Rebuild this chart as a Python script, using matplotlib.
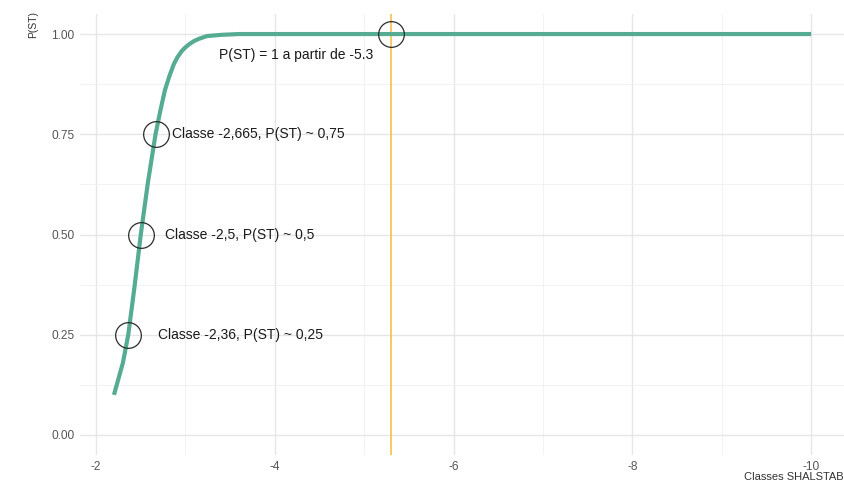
import matplotlib.pyplot as plt
from matplotlib.ticker import MultipleLocator

# valeurs
classe = [-2.2, -2.25, -2.3, -2.36, -2.43, -2.5, -2.58, -2.665, -2.72, -2.77, -2.82,
          -2.87, -2.91, -2.96, -3.0, -3.05, -3.1, -3.15, -3.24, -3.4, -3.6, -4.0, -5.3, -10.0]
p_st = [0.10, 0.14, 0.18, 0.25, 0.37, 0.50, 0.63, 0.75, 0.81, 0.86, 0.895,
        0.925, 0.942, 0.958, 0.967, 0.976, 0.983, 0.988, 0.995, 0.998, 1.0, 1.0, 1.0, 1.0]

pts_x = [-2.36, -2.5, -2.665, -5.3]
pts_y = [0.25, 0.5, 0.75, 1.0]
labels = ['Classe -2,36, P(ST) ~ 0,25', 'Classe -2,5, P(ST) ~ 0,5',
          'Classe -2,665, P(ST) ~ 0,75', 'P(ST) = 1 a partir de -5.3']
seuil = -5.3

plt.rcParams['font.family'] = ['Liberation Sans', 'DejaVu Sans']
plt.rcParams['axes.unicode_minus'] = False

fig = plt.figure(figsize=(8.44, 4.82), dpi=100)
ax = fig.add_axes([80 / 844, 27 / 482, 766 / 844, 441 / 482])

ax.plot(classe, p_st, color='#55AC92', lw=3, solid_capstyle='butt',
        solid_joinstyle='round', zorder=3)
ax.axvline(seuil, color='#F3BA3A', lw=1.1, zorder=2)
ax.plot(pts_x, pts_y, 'o', mfc='none', mec='#2B2B2B', ms=18.5, mew=0.9, zorder=4)

fs = 10
ax.text(-2.69, 0.25, labels[0], fontsize=fs, color='#1A1A1A', ha='left', va='center')
ax.text(-2.77, 0.5, labels[1], fontsize=fs, color='#1A1A1A', ha='left', va='center')
ax.text(-2.85, 0.75, labels[2], fontsize=fs, color='#1A1A1A', ha='left', va='center')
ax.text(-4.24, 0.948, labels[3], fontsize=fs, color='#1A1A1A', ha='center', va='center')

ax.set_xlim(-1.82, -10.39)
ax.set_ylim(-0.05, 1.05)
ax.xaxis.set_major_locator(MultipleLocator(2))
ax.xaxis.set_minor_locator(MultipleLocator(1))
ax.yaxis.set_major_locator(MultipleLocator(0.25))
ax.yaxis.set_minor_locator(MultipleLocator(0.125))
ax.set_yticklabels([f'{v:.2f}' for v in ax.get_yticks()])

ax.grid(which='major', color='#E6E6E6', lw=1.0)
ax.grid(which='minor', color='#F0F0F0', lw=0.6)
ax.set_axisbelow(True)
for s in ax.spines.values():
    s.set_visible(False)
ax.tick_params(which='both', length=0, labelsize=8.6, labelcolor='#555555', pad=4)

fig.text(33 / 844, 1 - 25 / 482, 'P(ST)', rotation=90, fontsize=7.5, color='#333333',
         ha='center', va='center')
fig.text(844 / 844, 1 - 477 / 482, 'Classes SHALSTAB', fontsize=8, color='#333333',
         ha='right', va='center')

fig.savefig('out.png', dpi=100)
